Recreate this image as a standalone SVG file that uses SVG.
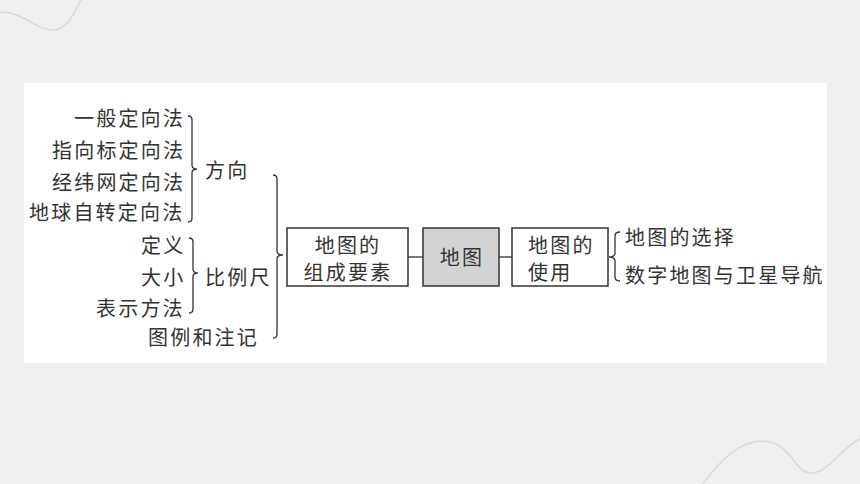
<svg xmlns="http://www.w3.org/2000/svg" width="860" height="484" viewBox="0 0 860 484">
<style>
text{font-family:"Noto Sans CJK SC","Noto Sans",sans-serif;font-size:20px;fill:#333;letter-spacing:2.2px}
.box{fill:#fff;stroke:#333;stroke-width:1.5}
.br{fill:none;stroke:#333;stroke-width:1.3}
.deco{fill:none;stroke:#d9d9d9;stroke-width:1.5}
</style>
<rect width="860" height="484" fill="#f0f0f0"/>
<path class="deco" d="M0,12 C25,12 35,30 53,30 C66,30 72,18 81,0"/>
<path class="deco" d="M703,484 C720,460 740,441 762,441 C790,441 795,473 810,473 C830,473 840,448 860,439"/>
<rect x="24" y="83" width="803" height="280" fill="#fff"/>
<g id="left-items">
<text x="74" y="125.5">一般定向法</text>
<text x="52" y="157.5">指向标定向法</text>
<text x="52" y="189.5">经纬网定向法</text>
<text x="29" y="219.5">地球自转定向法</text>
<text x="141" y="252.5">定义</text>
<text x="141" y="284.5">大小</text>
<text x="96" y="315.5">表示方法</text>
</g>
<g id="fangxiang"><text x="205" y="177.5">方向</text></g>
<g id="bilichi"><text x="205" y="284.5">比例尺</text></g>
<g id="tuli"><text x="148" y="344.5">图例和注记</text></g>
<g id="zucheng">
<rect class="box" x="287" y="228" width="121" height="58"/>
<text x="348" y="252.5" text-anchor="middle">地图的</text>
<text x="348" y="279.5" text-anchor="middle">组成要素</text>
</g>
<g id="ditu">
<rect class="box" x="423" y="228" width="76" height="58" style="fill:#d3d3d3"/>
<text x="462" y="264.5" text-anchor="middle">地图</text>
</g>
<g id="shiyong">
<rect class="box" x="512" y="228" width="96" height="58"/>
<text x="528" y="252.5">地图的</text>
<text x="528" y="279.5">使用</text>
</g>
<g id="right-items">
<text x="625" y="244.5">地图的选择</text>
<text x="625" y="282.5">数字地图与卫星导航</text>
</g>
<g id="connectors">
<line class="br" x1="408" y1="257" x2="423" y2="257"/>
<line class="br" x1="499" y1="257" x2="512" y2="257"/>
<path class="br" d="M188,116 Q192,116 192,120 L192,165 Q192,169 197,169 Q192,169 192,173 L192,218 Q192,222 188,222"/>
<path class="br" d="M189,238 Q193,238 193,242 L193,269 Q193,273 198,273 Q193,273 193,277 L193,309 Q193,313 189,313"/>
<path class="br" d="M273,175 Q277,175 277,179 L277,251 Q277,255 283,255 Q277,255 277,259 L277,334 Q277,338 273,338"/>
<path class="br" d="M620,232 Q615,232 615,236 L615,253 Q615,257 609,257 Q615,257 615,261 L615,277 Q615,281 620,281"/>
</g>
</svg>
